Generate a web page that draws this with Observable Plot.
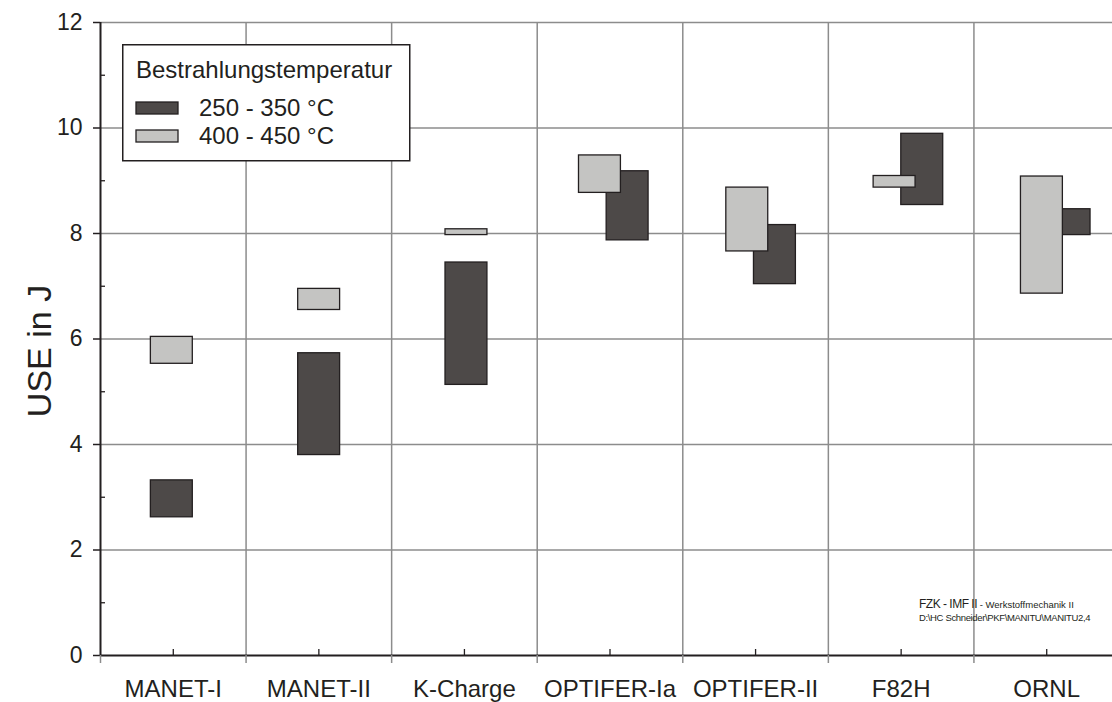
<!DOCTYPE html>
<html>
<head>
<meta charset="utf-8">
<script src="https://cdn.jsdelivr.net/npm/d3@7"></script>
<script src="https://cdn.jsdelivr.net/npm/@observablehq/plot@0.6"></script>
<style>
  html, body { margin: 0; padding: 0; background: #fff; overflow: hidden; }
  #wrap { position: relative; width: 1112px; height: 702px; overflow: hidden;
          font-family: "Liberation Sans", Arial, sans-serif; color: #231f20; }
  #chart svg { display: block; max-width: none; }
  #legend { position: absolute; left: 122px; top: 44px; }
  #note { position: absolute; left: 919px; top: 592px; }
</style>
</head>
<body>
<div id="wrap">
  <div id="chart"></div>
  <svg id="legend" width="289" height="118"></svg>
  <svg id="note" width="193" height="34"></svg>
</div>
<script>
// Upper shelf energy ranges per material, for two irradiation temperature bands
const categories = ["MANET-I", "MANET-II", "K-Charge", "OPTIFER-Ia", "OPTIFER-II", "F82H", "ORNL"];
const lowTempMin  = [2.62, 3.80, 5.13, 7.87, 7.04, 8.54, 7.97];
const lowTempMax  = [3.32, 5.73, 7.45, 9.18, 8.16, 9.89, 8.46];
const highTempMin = [5.53, 6.55, 7.97, 8.77, 7.66, 8.87, 6.86];
const highTempMax = [6.04, 6.95, 8.08, 9.48, 8.87, 9.09, 9.08];
const seriesLabels = ["250 - 350 °C", "400 - 450 °C"];
const legendTitle = "Bestrahlungstemperatur";
const yLabel = "USE in J";
const yMajorTicks = [0, 2, 4, 6, 8, 10, 12];
const yMinorTicks = [1, 3, 5, 7, 9, 11];
const noteLines = ["FZK - IMF II", " - Werkstoffmechanik II", "D:\\HC Schneider\\PKF\\MANITU\\MANITU2,4"];

const darkFill = "#4d4948", lightFill = "#c4c4c2", ink = "#231f20", grid = "#8c8c8c";

// x runs over category slots [0, 7]; each bar group sits near its slot centre.
// When the two temperature ranges overlap, the bars are pulled apart sideways.
const halfWidth = 0.144;
const sideShift = 0.095;
const groupCenter = i => 0.49 + 1.012 * i;

const rows = [];
categories.forEach((c, i) => {
  const overlap = lowTempMin[i] < highTempMax[i] && highTempMin[i] < lowTempMax[i];
  const s = overlap ? sideShift : 0;
  rows.push({category: c, series: seriesLabels[0], x: groupCenter(i) + s, lo: lowTempMin[i], hi: lowTempMax[i]});
  rows.push({category: c, series: seriesLabels[1], x: groupCenter(i) - s, lo: highTempMin[i], hi: highTempMax[i]});
});

const slotEdges = d3.range(0, categories.length + 1);
const slotCenters = d3.range(categories.length).map(i => i + 0.5);

const chart = Plot.plot({
  width: 1120,
  height: 702,
  marginLeft: 100,
  marginRight: 1,
  marginTop: 22,
  marginBottom: 47,
  x: {domain: [0, categories.length]},
  y: {domain: [0, 12]},
  style: {fontFamily: "'Liberation Sans', Arial, sans-serif", color: ink, background: "white"},
  marks: [
    Plot.ruleY(yMajorTicks.slice(1), {stroke: grid, strokeWidth: 1.5}),
    Plot.ruleX(slotEdges.slice(1), {y1: 0, y2: 12, stroke: grid, strokeWidth: 1.5}),
    Plot.rect(rows.filter(d => d.series === seriesLabels[0]), {
      x1: d => d.x - halfWidth, x2: d => d.x + halfWidth, y1: "lo", y2: "hi",
      fill: darkFill, stroke: ink, strokeWidth: 1.3
    }),
    Plot.rect(rows.filter(d => d.series === seriesLabels[1]), {
      x1: d => d.x - halfWidth, x2: d => d.x + halfWidth, y1: "lo", y2: "hi",
      fill: lightFill, stroke: ink, strokeWidth: 1.3
    }),
    Plot.ruleX([0], {stroke: ink, strokeWidth: 2}),
    Plot.ruleY([0], {stroke: ink, strokeWidth: 2}),
    Plot.axisY(yMajorTicks, {anchor: "left", tickSize: 7, tickPadding: 11, fontSize: 23,
      tickFormat: d3.format("d"), stroke: ink, strokeWidth: 1.5, label: null}),
    Plot.axisY(yMinorTicks, {anchor: "left", tickSize: 5, dx: 5, tickFormat: () => "",
      stroke: ink, strokeWidth: 1.3, label: null}),
    Plot.axisX(slotEdges, {anchor: "bottom", tickSize: 8, tickFormat: () => "",
      stroke: grid, strokeWidth: 1.5, label: null}),
    Plot.axisX(slotCenters, {anchor: "bottom", tickSize: 6, dy: -6, tickFormat: () => "",
      stroke: ink, strokeWidth: 1.3, label: null}),
    Plot.axisX(slotCenters, {anchor: "bottom", tickSize: 0, tickPadding: 24, fontSize: 24,
      tickFormat: d => categories[Math.floor(d)], label: null}),
    Plot.text([yLabel], {frameAnchor: "left", dx: -60, dy: 12, rotate: -90,
      textAnchor: "middle", lineAnchor: "middle", fontSize: 34, fill: ink})
  ]
});
document.getElementById("chart").append(chart);

// Legend box drawn over the plot area
const legend = d3.select("#legend");
legend.append("rect").attr("x", 0.75).attr("y", 0.75).attr("width", 287).attr("height", 116)
  .attr("fill", "#fff").attr("stroke", ink).attr("stroke-width", 1.5);
legend.append("text").attr("x", 14).attr("y", 34).attr("font-size", 24).attr("fill", ink)
  .text(legendTitle);
[[darkFill, seriesLabels[0]], [lightFill, seriesLabels[1]]].forEach(([fill, label], k) => {
  legend.append("rect").attr("x", 14).attr("y", 58 + 28 * k).attr("width", 42).attr("height", 12)
    .attr("fill", fill).attr("stroke", ink).attr("stroke-width", 1.3);
  legend.append("text").attr("x", 77).attr("y", 72 + 28 * k).attr("font-size", 24).attr("fill", ink)
    .text(label);
});

// Source note in the lower right corner
const note = d3.select("#note");
const line1 = note.append("text").attr("x", 0).attr("y", 16).attr("fill", ink);
line1.append("tspan").attr("font-size", 12).attr("letter-spacing", -0.5).text(noteLines[0]);
line1.append("tspan").attr("font-size", 9.5).attr("letter-spacing", 0).text(noteLines[1]);
note.append("text").attr("x", 0).attr("y", 29).attr("fill", ink).attr("font-size", 9.5)
  .attr("letter-spacing", -0.35).text(noteLines[2]);
</script>
</body>
</html>
